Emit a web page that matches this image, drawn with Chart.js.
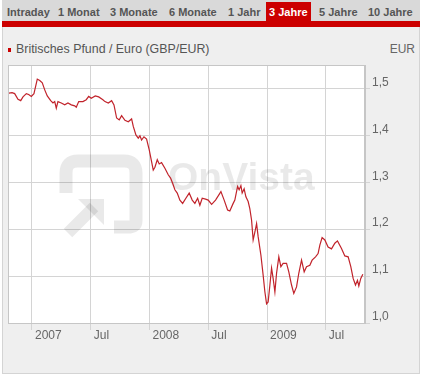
<!DOCTYPE html>
<html>
<head>
<meta charset="utf-8">
<script src="https://cdn.jsdelivr.net/npm/chart.js@4/dist/chart.umd.min.js"></script>
<style>
  html, body { margin:0; padding:0; background:#ffffff; }
  body { width:422px; height:376px; position:relative; overflow:hidden; font-family:"Liberation Sans", Arial, sans-serif; }
  #tabs { position:absolute; left:2px; top:0; width:418px; height:21px; background:#d9d9d9; }
  .tab { position:absolute; top:0; height:21px; line-height:24px; font-size:11px; font-weight:bold; color:#555; white-space:nowrap; }
  .tab.sel { background:#cc0000; color:#fff; top:2px; height:19px; line-height:21px; padding:0 3px; }
  #redbar { position:absolute; left:2px; top:21px; width:418px; height:6px; background:#cc0000; }
  #panel { position:absolute; left:2px; top:27px; width:416px; height:346px; background:#efefef; border:1px solid #d4d4d4; border-top:none; }
  #legsq { position:absolute; left:8px; top:48px; width:3px; height:4px; background:#cc0000; }
  #legtx { position:absolute; left:16px; top:42px; font-size:12.4px; color:#555; white-space:nowrap; }
  #unit { position:absolute; right:7px; top:42px; font-size:12px; color:#666; }
  #c { position:absolute; left:0; top:0; }
</style>
</head>
<body>
<div id="tabs">
  <span class="tab" style="left:5px">Intraday</span>
  <span class="tab" style="left:56px">1 Monat</span>
  <span class="tab" style="left:108px">3 Monate</span>
  <span class="tab" style="left:167px">6 Monate</span>
  <span class="tab" style="left:226px">1 Jahr</span>
  <span class="tab sel" style="left:264px">3 Jahre</span>
  <span class="tab" style="left:317px">5 Jahre</span>
  <span class="tab" style="left:366px">10 Jahre</span>
</div>
<div id="redbar"></div>
<div id="panel"></div>
<div id="legsq"></div>
<div id="legtx">Britisches Pfund / Euro (GBP/EUR)</div>
<div id="unit">EUR</div>
<canvas id="c" width="422" height="376"></canvas>
<script>
// month index since 1 Jan 2007 (0 = Jan 2007, 12 = Jan 2008, 24 = Jan 2009)
const months = [
  -2.35,-2.04,-1.77,-1.43,-1.15,-0.92,-0.58,-0.34,-0.07,0.20,
  0.54,0.79,1.05,1.30,1.56,1.91,2.14,2.32,2.48,2.65,
  2.99,3.34,3.67,4.01,4.36,4.52,4.77,5.20,5.54,5.79,
  6.05,6.46,6.81,7.24,7.45,7.79,8.13,8.37,8.64,8.91,
  9.15,9.49,9.83,10.17,10.34,10.61,10.85,11.02,11.19,11.43,
  11.70,11.97,12.21,12.38,12.55,12.79,12.99,13.23,13.57,13.91,
  14.15,14.36,14.59,14.83,15.10,15.38,15.71,16.05,16.36,16.63,
  16.91,17.14,17.38,17.72,17.99,18.34,18.74,19.29,19.62,19.97,
  20.20,20.54,20.71,20.99,21.15,21.33,21.46,21.66,21.84,22.07,
  22.24,22.42,22.58,22.76,22.93,23.09,23.37,23.60,23.78,23.95,
  24.11,24.29,24.46,24.62,24.80,24.97,25.20,25.41,25.64,25.99,
  26.22,26.50,26.73,27.01,27.24,27.52,27.79,28.03,28.37,28.60,
  28.95,29.21,29.39,29.62,29.90,30.23,30.58,30.92,31.19,31.60,
  31.94,32.28,32.55,32.79,33.03,33.23,33.37,33.57,33.78
];
const rates = [
  1.490,1.491,1.489,1.477,1.474,1.482,1.489,1.487,1.483,1.489,
  1.520,1.517,1.512,1.497,1.484,1.474,1.469,1.472,1.458,1.472,
  1.469,1.465,1.469,1.465,1.463,1.460,1.472,1.472,1.476,1.483,
  1.479,1.484,1.482,1.476,1.472,1.469,1.474,1.465,1.437,1.433,
  1.442,1.432,1.429,1.435,1.419,1.401,1.394,1.399,1.390,1.397,
  1.392,1.369,1.344,1.326,1.332,1.348,1.339,1.342,1.330,1.316,
  1.309,1.298,1.284,1.277,1.262,1.255,1.266,1.277,1.262,1.255,
  1.266,1.251,1.266,1.264,1.262,1.253,1.262,1.280,1.262,1.241,
  1.239,1.255,1.262,1.291,1.284,1.293,1.277,1.286,1.269,1.259,
  1.244,1.219,1.177,1.194,1.212,1.184,1.145,1.102,1.066,1.041,
  1.045,1.081,1.117,1.095,1.066,1.106,1.141,1.120,1.127,1.127,
  1.109,1.081,1.063,1.077,1.106,1.134,1.109,1.120,1.123,1.134,
  1.141,1.148,1.166,1.182,1.177,1.162,1.158,1.170,1.175,1.159,
  1.143,1.141,1.120,1.095,1.081,1.091,1.079,1.095,1.104
];
const xTickValues = [0, 6, 12, 18, 24, 30];
const xTickLabels = ["2007", "Jul", "2008", "Jul", "2009", "Jul"];
const yTickValues = [1.0, 1.1, 1.2, 1.3, 1.4, 1.5];
const yTickLabels = ["1,0", "1,1", "1,2", "1,3", "1,4", "1,5"];

const points = months.map((m, i) => ({ x: m, y: rates[i] }));

const frame = {
  id: 'frame',
  beforeDraw(chart) {
    const a = chart.chartArea, ctx = chart.ctx;
    ctx.save();
    ctx.fillStyle = '#ffffff';
    ctx.fillRect(a.left, a.top, a.right - a.left, a.bottom - a.top);
    ctx.restore();
  },
  beforeDatasetsDraw(chart) {
    const a = chart.chartArea, ctx = chart.ctx;
    ctx.save();
    ctx.beginPath();
    ctx.rect(a.left, a.top, a.right - a.left, a.bottom - a.top);
    ctx.clip();
    const ox = a.left + 52, oy = a.top + 90;
    ctx.strokeStyle = 'rgba(0,0,0,0.085)';
    ctx.fillStyle = 'rgba(0,0,0,0.085)';
    ctx.lineWidth = 13;
    ctx.lineJoin = 'round';
    ctx.lineCap = 'butt';
    // rounded frame of the logo, open at lower left
    ctx.beginPath();
    ctx.moveTo(ox + 6, oy + 38);
    ctx.lineTo(ox + 6, oy + 18);
    ctx.quadraticCurveTo(ox + 6, oy + 6, ox + 18, oy + 6);
    ctx.lineTo(ox + 64, oy + 6);
    ctx.quadraticCurveTo(ox + 76, oy + 6, ox + 76, oy + 18);
    ctx.lineTo(ox + 76, oy + 66);
    ctx.quadraticCurveTo(ox + 76, oy + 72, ox + 68, oy + 72);
    ctx.lineTo(ox + 54, oy + 72);
    ctx.stroke();
    // arrow
    ctx.lineWidth = 12;
    ctx.beginPath();
    ctx.moveTo(ox + 8, oy + 78);
    ctx.lineTo(ox + 34, oy + 52);
    ctx.stroke();
    ctx.beginPath();
    ctx.moveTo(ox + 18, oy + 44);
    ctx.lineTo(ox + 44, oy + 44);
    ctx.lineTo(ox + 44, oy + 70);
    ctx.closePath();
    ctx.fill();
    ctx.font = 'bold 39px "Liberation Sans", Arial, sans-serif';
    ctx.textBaseline = 'alphabetic';
    ctx.fillText('OnVista', a.left + 160, a.top + 125);
    ctx.restore();
  },
  afterDraw(chart) {
    const a = chart.chartArea, ctx = chart.ctx;
    ctx.save();
    ctx.strokeStyle = '#c6c6c6';
    ctx.lineWidth = 1;
    ctx.strokeRect(Math.round(a.left) + 0.5, Math.round(a.top) + 0.5, Math.round(a.right - a.left) - 1, Math.round(a.bottom - a.top));
    ctx.restore();
  }
};

new Chart(document.getElementById('c'), {
  type: 'line',
  data: {
    datasets: [{
      data: points,
      borderColor: '#c1232b',
      borderWidth: 1.2,
      pointRadius: 0,
      tension: 0,
      fill: false
    }]
  },
  options: {
    responsive: false,
    animation: false,
    events: [],
    layout: { padding: { left: 8, top: 65, right: 0, bottom: 0 } },
    plugins: { legend: { display: false }, tooltip: { enabled: false } },
    scales: {
      x: {
        type: 'linear',
        min: -2.45,
        max: 34,
        afterBuildTicks(scale) { scale.ticks = xTickValues.map(v => ({ value: v })); },
        afterFit(scale) { scale.height = 53; },
        grid: { color: '#d4d4d4', lineWidth: 1, tickLength: 7, drawTicks: true },
        border: { display: true, color: '#c6c6c6' },
        ticks: {
          autoSkip: false,
          maxRotation: 0,
          align: 'start',
          labelOffset: 3,
          padding: 0,
          color: '#666',
          font: { family: '"Liberation Sans", Arial, sans-serif', size: 12, lineHeight: 1 },
          callback(value) { const i = xTickValues.indexOf(value); return i >= 0 ? xTickLabels[i] : ''; }
        }
      },
      y: {
        position: 'right',
        min: 1.0,
        max: 1.55,
        afterBuildTicks(scale) { scale.ticks = yTickValues.map(v => ({ value: v })); },
        afterFit(scale) { scale.width = 57; },
        grid: { color: '#d4d4d4', lineWidth: 1, tickLength: 5, drawTicks: true },
        border: { display: true, color: '#c6c6c6' },
        ticks: {
          padding: 2,
          labelOffset: -6,
          color: '#666',
          font: { family: '"Liberation Sans", Arial, sans-serif', size: 12 },
          callback(value) { const i = yTickValues.findIndex(v => Math.abs(v - value) < 1e-9); return i >= 0 ? yTickLabels[i] : ''; }
        }
      }
    }
  },
  plugins: [frame]
});
</script>
</body>
</html>
